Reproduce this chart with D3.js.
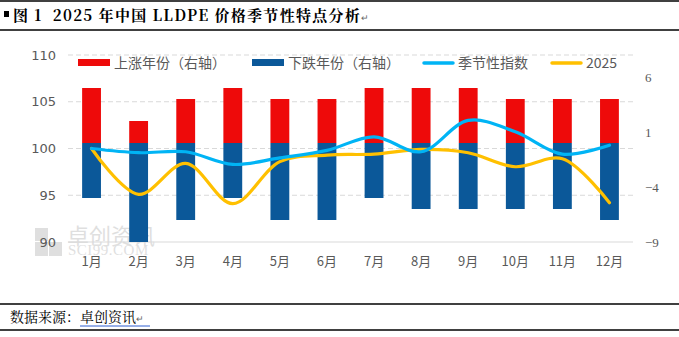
<!DOCTYPE html>
<html>
<head>
<meta charset="utf-8">
<script src="https://cdn.jsdelivr.net/npm/d3@7"></script>
<style>
  body { margin: 0; background: #fff; }
  svg text { font-family: "Noto Sans CJK SC", "Noto Sans", sans-serif; }
</style>
</head>
<body>
<script>
// data
var months = ["1月","2月","3月","4月","5月","6月","7月","8月","9月","10月","11月","12月"];
var upYears = [5, 2, 4, 5, 4, 4, 5, 5, 5, 4, 4, 4];          // right axis
var downYears = [-5, -9, -7, -5, -7, -7, -5, -6, -6, -6, -6, -7]; // right axis
var seasonal = [100.0, 99.55, 99.65, 98.3, 99.0, 99.8, 101.25, 99.65, 103.0, 101.8, 99.4, 100.35];
var y2025 = [100.0, 95.1, 98.4, 94.1, 98.6, 99.3, 99.4, 99.9, 99.55, 98.05, 98.9, 94.2];
var leftTicks = [90, 95, 100, 105, 110];
var rightTicks = [-9, -4, 1, 6];

var W = 679, H = 337;
var svg = d3.select("body").append("svg")
    .attr("width", W)
    .attr("height", H);

// frame lines (title and source)
[1, 30, 304, 330].forEach(function(y) {
    svg.append("line")
        .attr("x1", 0).attr("x2", W)
        .attr("y1", y).attr("y2", y)
        .attr("stroke", "#000").attr("stroke-width", 1.3);
});

// title
svg.append("rect").attr("x", 4).attr("y", 11).attr("width", 5).attr("height", 6).attr("fill", "#000");
var title = svg.append("text")
    .attr("x", 13).attr("y", 21)
    .attr("font-size", 15).attr("font-weight", "bold")
    .attr("letter-spacing", 1.3)
    .attr("fill", "#000")
    .style("font-family", "'Noto Serif CJK SC','Noto Sans CJK SC',serif")
    .attr("xml:space", "preserve")
    .text("图 1  2025 年中国 LLDPE 价格季节性特点分析");
title.append("tspan").attr("font-size", 9).attr("font-weight", "normal").attr("fill", "#666").text("↵");

// scales
var x = d3.scaleBand()
    .domain(months)
    .range([68, 633])
    .paddingInner(0.6)
    .paddingOuter(0.3);

var yL = d3.scaleLinear().domain([90, 110]).range([242, 55]);
var yR = d3.scaleLinear().domain([-9, 8]).range([242, 55]);

// watermark
var wm = svg.append("g").attr("opacity", 0.3);
wm.append("rect").attr("x", 35).attr("y", 228).attr("width", 13).attr("height", 13).attr("fill", "#999");
wm.append("rect").attr("x", 49).attr("y", 242).attr("width", 13).attr("height", 14).attr("fill", "#999");
wm.append("rect").attr("x", 35).attr("y", 242).attr("width", 13).attr("height", 14).attr("fill", "#999");
wm.append("text").attr("x", 67).attr("y", 244).attr("font-size", 22).attr("fill", "#999").text("卓创资讯");
wm.append("text").attr("x", 68).attr("y", 255).attr("font-size", 15).attr("fill", "#999")
    .attr("letter-spacing", 0.5)
    .style("font-family", "'Liberation Serif',serif").text("SCI99.COM");

// gridlines
svg.append("g").selectAll("line")
    .data(leftTicks.filter(function(d) { return d > 90; }))
    .enter().append("line")
    .attr("x1", 68).attr("x2", 633)
    .attr("y1", function(d) { return yL(d); })
    .attr("y2", function(d) { return yL(d); })
    .attr("stroke", "#d9d9d9")
    .attr("stroke-dasharray", "5,3");

svg.append("line")
    .attr("x1", 68).attr("x2", 633)
    .attr("y1", yL(90)).attr("y2", yL(90))
    .attr("stroke", "#d9d9d9");

// bars
svg.append("g").selectAll("rect")
    .data(upYears)
    .enter().append("rect")
    .attr("x", function(d, i) { return x(months[i]); })
    .attr("width", x.bandwidth())
    .attr("y", function(d) { return yR(d); })
    .attr("height", function(d) { return yR(0) - yR(d); })
    .attr("fill", "#ee0a0a");

svg.append("g").selectAll("rect")
    .data(downYears)
    .enter().append("rect")
    .attr("x", function(d, i) { return x(months[i]); })
    .attr("width", x.bandwidth())
    .attr("y", yR(0))
    .attr("height", function(d) { return yR(d) - yR(0); })
    .attr("fill", "#0b5899");

// lines
var line = d3.line()
    .x(function(d, i) { return x(months[i]) + x.bandwidth() / 2; })
    .y(function(d) { return yL(d); })
    .curve(d3.curveCatmullRom.alpha(0.5));

svg.append("path").datum(y2025)
    .attr("d", line)
    .attr("fill", "none")
    .attr("stroke", "#ffc000")
    .attr("stroke-width", 3.2)
    .attr("stroke-linecap", "round");

svg.append("path").datum(seasonal)
    .attr("d", line)
    .attr("fill", "none")
    .attr("stroke", "#00b4f5")
    .attr("stroke-width", 3.2)
    .attr("stroke-linecap", "round");

// axes
var axisL = svg.append("g")
    .attr("transform", "translate(60,0)")
    .call(d3.axisLeft(yL).tickValues(leftTicks).tickSize(0).tickPadding(4));
axisL.select(".domain").remove();
axisL.selectAll("text").attr("font-size", 13).attr("fill", "#595959")
    .style("font-family", "'DejaVu Sans','Noto Sans',sans-serif");

var axisR = svg.append("g")
    .attr("transform", "translate(642,0)")
    .call(d3.axisRight(yR).tickValues(rightTicks).tickSize(0).tickPadding(3)
        .tickFormat(function(d) { return d < 0 ? "\u2212" + Math.abs(d) : d; }));
axisR.select(".domain").remove();
axisR.selectAll("text").attr("font-size", 13).attr("fill", "#595959")
    .style("font-family", "'Liberation Serif',serif");

var axisX = svg.append("g")
    .attr("transform", "translate(0,257)")
    .call(d3.axisBottom(x).tickSize(0).tickPadding(0));
axisX.select(".domain").remove();
axisX.selectAll("text").attr("font-size", 13).attr("fill", "#595959");

// legend
var legend = [
    { name: "上涨年份（右轴）", color: "#ee0a0a", type: "bar", x: 78 },
    { name: "下跌年份（右轴）", color: "#0b5899", type: "bar", x: 252 },
    { name: "季节性指数", color: "#00b4f5", type: "line", x: 422 },
    { name: "2025", color: "#ffc000", type: "line", x: 550 }
];
var lg = svg.append("g").selectAll("g")
    .data(legend)
    .enter().append("g")
    .attr("transform", function(d) { return "translate(" + d.x + ",63)"; });
lg.filter(function(d) { return d.type === "bar"; })
    .append("rect")
    .attr("x", 0).attr("y", -4).attr("width", 32).attr("height", 7)
    .attr("fill", function(d) { return d.color; });
lg.filter(function(d) { return d.type === "line"; })
    .append("line")
    .attr("x1", 2).attr("x2", 31).attr("y1", 0).attr("y2", 0)
    .attr("stroke", function(d) { return d.color; })
    .attr("stroke-width", 3.5)
    .attr("stroke-linecap", "round");
lg.append("text")
    .attr("x", 36).attr("y", 5)
    .attr("font-size", 14)
    .attr("fill", "#595959")
    .text(function(d) { return d.name; });

// source
var src = svg.append("text")
    .attr("x", 10).attr("y", 322)
    .attr("font-size", 14)
    .attr("fill", "#000")
    .style("font-family", "'Noto Serif CJK SC','Noto Sans CJK SC',serif")
    .text("数据来源：");
src.append("tspan").text("卓创资讯");
src.append("tspan").attr("font-size", 9).attr("fill", "#666").text("↵");
svg.append("line")
    .attr("x1", 80).attr("x2", 150)
    .attr("y1", 326).attr("y2", 326)
    .attr("stroke", "#2f5fd0").attr("stroke-width", 1);
</script>
</body>
</html>
